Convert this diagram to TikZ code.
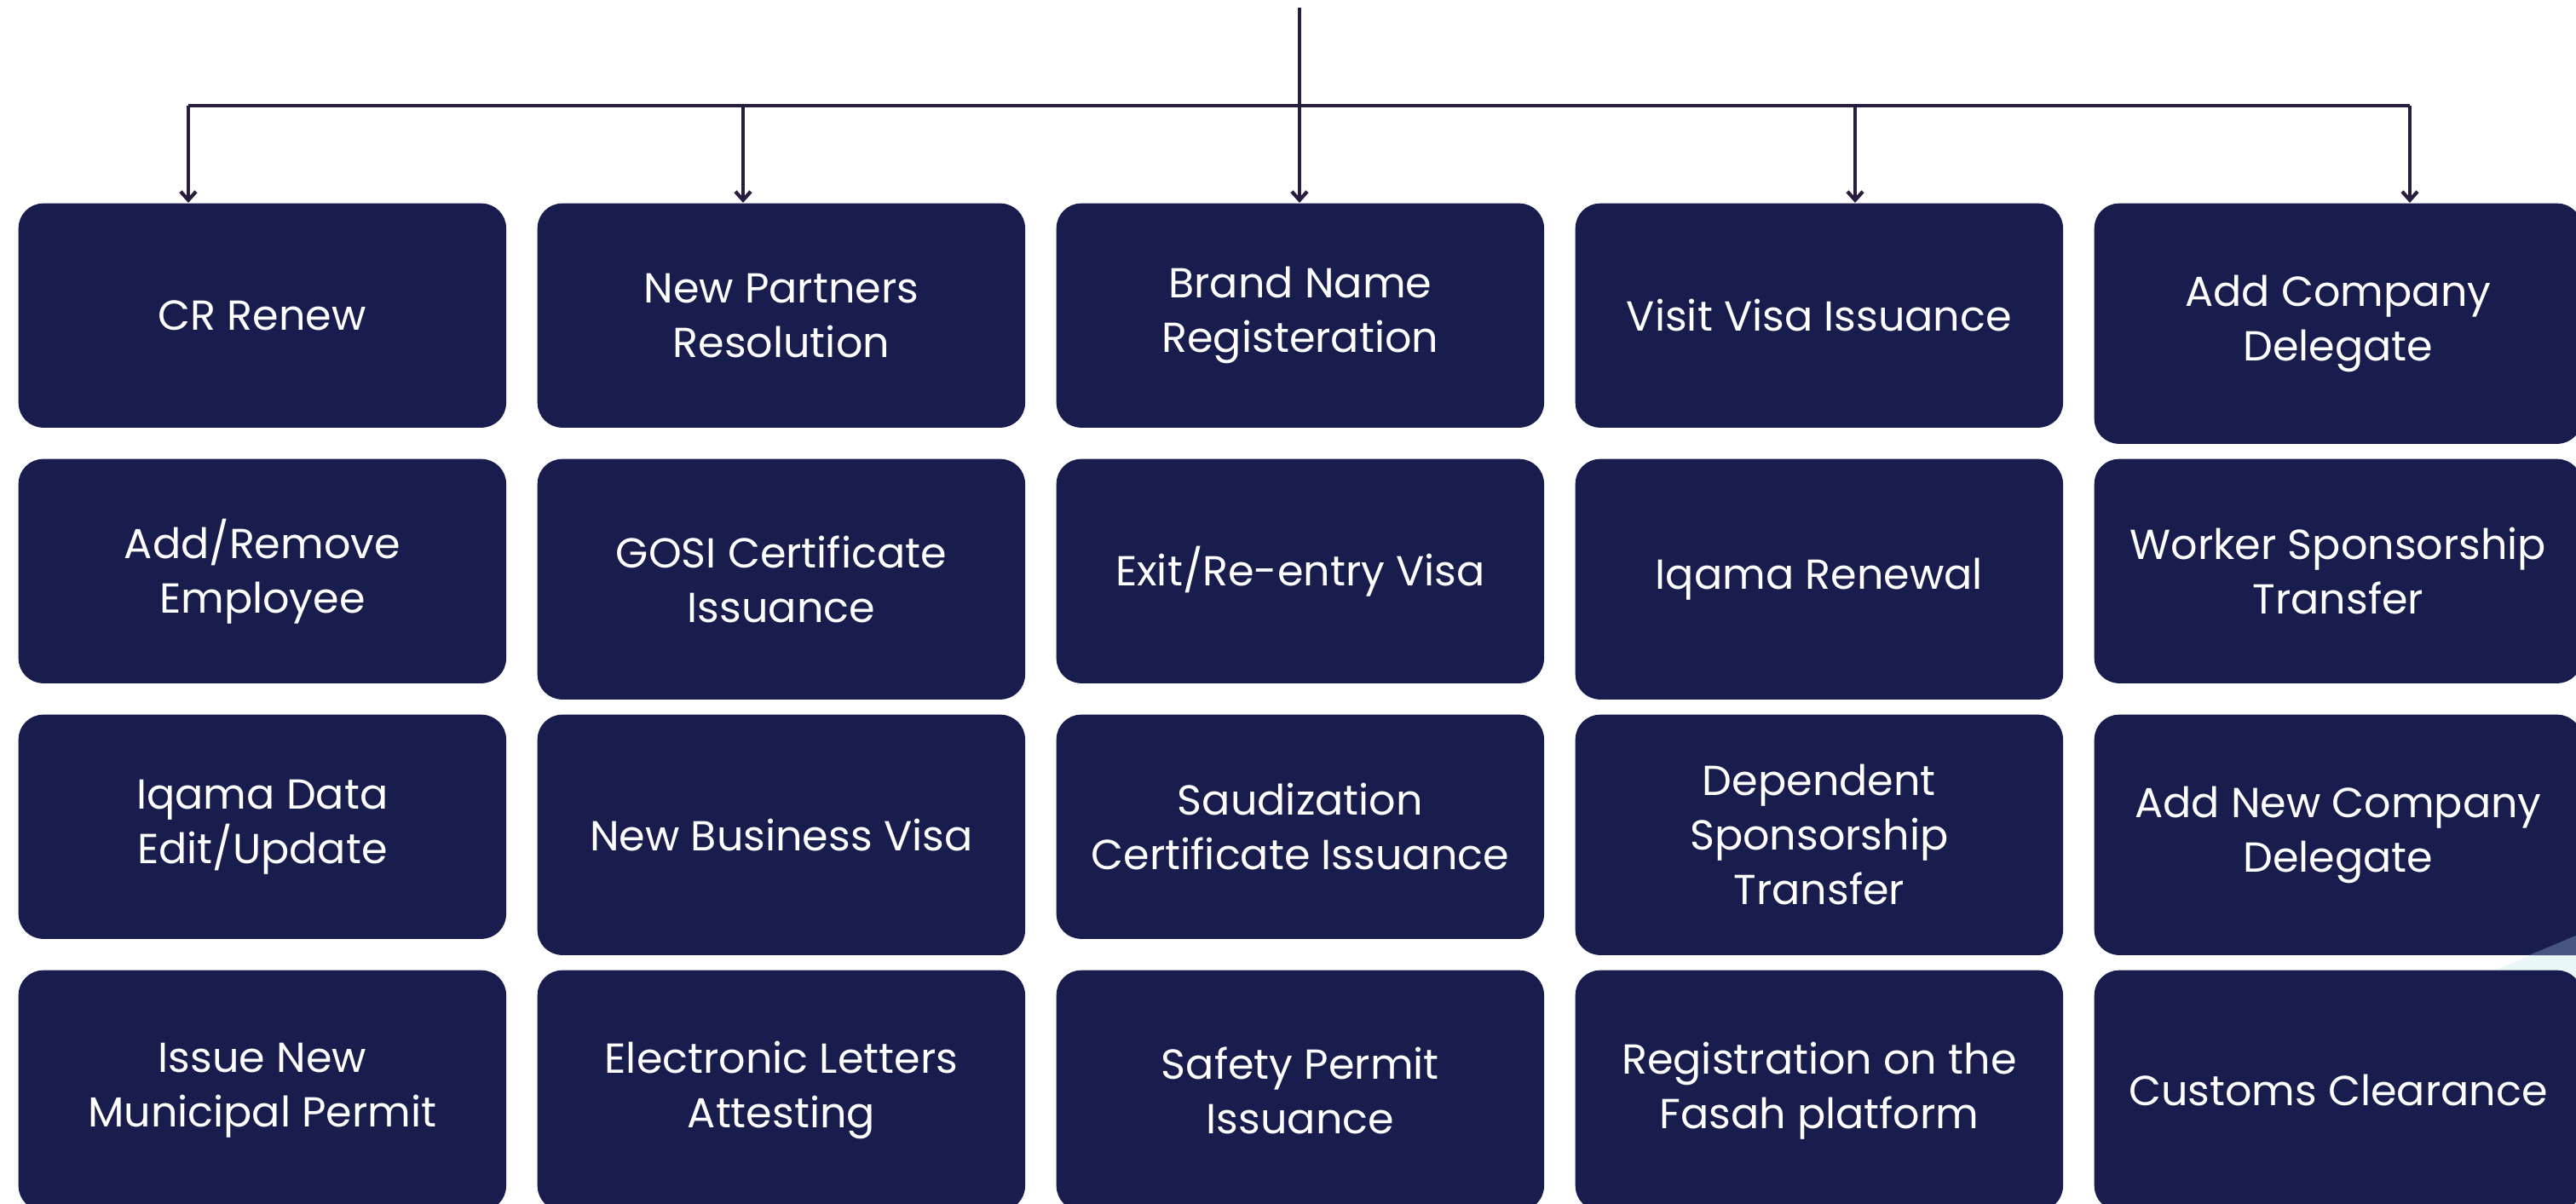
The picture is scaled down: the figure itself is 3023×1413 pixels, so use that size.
\documentclass[tikz,border=0pt]{standalone}
\usepackage{fontspec}
\setmainfont{Poppins}
\usetikzlibrary{arrows.meta}

\tikzset{
	svcbox/.style={shape=rectangle, rounded corners=0.29cm, fill=cbox, text=ctext, align=center,
		minimum width=5.72cm, minimum height=2.63cm, inner sep=0pt, anchor=north west,
		font=\fontsize{14}{18.2}\selectfont},
	svctall/.style={svcbox, minimum height=2.82cm},
	wire/.style={draw=cwire, line width=1.2pt},
	feed/.style={wire, -{Straight Barb[length=1mm,width=1.8mm]}},
}

\begin{document}
\begin{tikzpicture}[x=0.01cm, y=-0.01cm]
			\definecolor{cbox}{RGB}{24,29,78}
			\definecolor{ctext}{RGB}{255,255,255}
			\definecolor{cwire}{RGB}{40,29,62}
			\definecolor{cband}{RGB}{234,247,247}
			\definecolor{cbandd}{RGB}{72,84,128}
			%
			\useasboundingbox (0,0) rectangle (3023,1413);
			\clip (0,0) rectangle (3023,1413);
			%
			\fill[cband] (2932,1137) -- (3030,1095) -- (3030,1190) -- cycle;
			%
			\node[svcbox] (s11) at (21,238) {CR Renew};
			\node[svcbox] (s12) at (630,238) {New Partners\\Resolution};
			\node[svcbox] (s13) at (1239,238) {Brand Name\\Registeration};
			\node[svcbox] (s14) at (1848,238) {Visit Visa Issuance};
			\node[svctall] (s15) at (2457,238) {Add Company\\Delegate};
			%
			\node[svcbox] (s21) at (21,538) {Add/Remove\\Employee};
			\node[svctall] (s22) at (630,538) {GOSI Certificate\\Issuance};
			\node[svcbox] (s23) at (1239,538) {Exit/Re-entry Visa};
			\node[svctall] (s24) at (1848,538) {Iqama Renewal};
			\node[svcbox] (s25) at (2457,538) {Worker Sponsorship\\Transfer};
			%
			\node[svcbox] (s31) at (21,838) {Iqama Data\\Edit/Update};
			\node[svctall] (s32) at (630,838) {New Business Visa};
			\node[svcbox] (s33) at (1239,838) {Saudization\\Certificate Issuance};
			\node[svctall] (s34) at (1848,838) {Dependent\\Sponsorship\\Transfer};
			\node[svctall] (s35) at (2457,838) {Add New Company\\Delegate};
			%
			\node[svctall] (s41) at (21,1138) {Issue New\\Municipal Permit};
			\node[svctall] (s42) at (630,1138) {Electronic Letters\\Attesting};
			\node[svctall] (s43) at (1239,1138) {Safety Permit\\Issuance};
			\node[svctall] (s44) at (1848,1138) {Registration on the\\Fasah platform};
			\node[svctall] (s45) at (2457,1138) {Customs Clearance};
			%
			\fill[cbandd] (2968,1121) -- (3030,1095) -- (3030,1121) -- cycle;
			%
			\coordinate (root) at (1525,9);
			\coordinate (a1) at (221,124);
			\coordinate (a2) at (872,124);
			\coordinate (a3) at (1525,124);
			\coordinate (a4) at (2177,124);
			\coordinate (a5) at (2828,124);
			%
			\draw[wire] (root) -- (a3);
			\draw[wire] (a1) -- (a5);
			\draw[feed] (a1) -- (a1 |- s11.north);
			\draw[feed] (a2) -- (a2 |- s12.north);
			\draw[feed] (a3) -- (a3 |- s13.north);
			\draw[feed] (a4) -- (a4 |- s14.north);
			\draw[feed] (a5) -- (a5 |- s15.north);
			%
		\end{tikzpicture}
\end{document}
